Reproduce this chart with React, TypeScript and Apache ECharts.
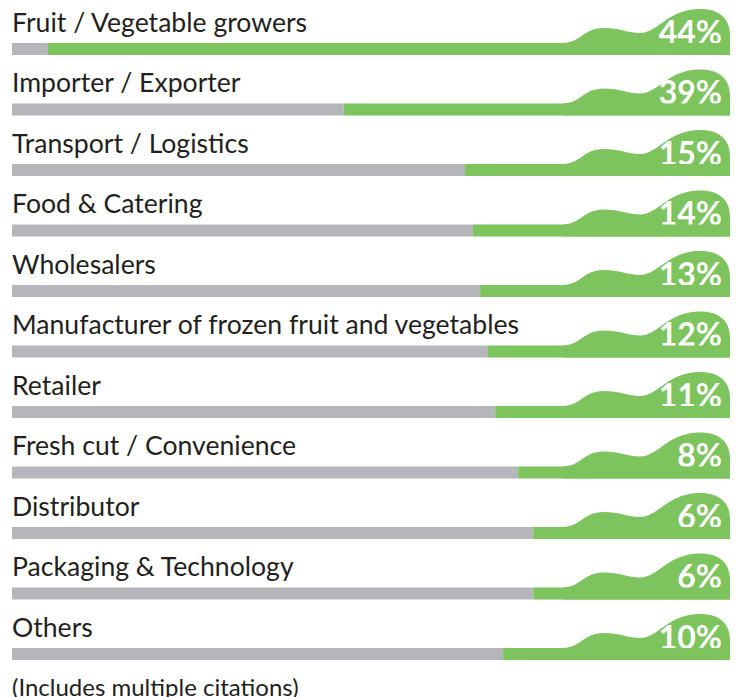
import React, { useEffect, useRef } from "react";
import * as echarts from "echarts";

const categories = [
  "Fruit / Vegetable growers",
  "Importer / Exporter",
  "Transport / Logistics",
  "Food & Catering",
  "Wholesalers",
  "Manufacturer of frozen fruit and vegetables",
  "Retailer",
  "Fresh cut / Convenience",
  "Distributor",
  "Packaging & Technology",
  "Others",
];
const percentages = [44, 39, 15, 14, 13, 12, 11, 8, 6, 6, 10];
// green part of each bar, as a share (0-100) of the full bar
const greenFill = [95.0, 53.8, 36.9, 35.8, 34.8, 33.7, 32.7, 29.5, 27.4, 27.4, 31.6];
const footnote = "(Includes multiple citations)";

const GREEN = "#7dc35e";
const GRAY = "#b5b6ba";
const TEXT = "#231f20";
const FONT = "Lato, 'Open Sans', sans-serif";

export default function App() {
  const ref = useRef<HTMLDivElement>(null);
  useEffect(() => {
    if (!ref.current) return;
    const chart = echarts.init(ref.current, undefined, { renderer: "svg" });
    const grayData = greenFill.map((g) => 100 - g);
    const customData = categories.map((c, i) => [i, percentages[i], c]);
    chart.setOption({
      animation: false,
      grid: { left: 12, right: 9, top: 18.75, bottom: 12.75, containLabel: false },
      xAxis: { type: "value", min: 0, max: 100, show: false },
      yAxis: {
        type: "category",
        data: categories,
        inverse: true,
        show: false,
      },
      series: [
        {
          type: "bar",
          stack: "s",
          data: grayData,
          barWidth: 12,
          itemStyle: { color: GRAY },
          silent: true,
        },
        {
          type: "bar",
          stack: "s",
          data: greenFill,
          barWidth: 12,
          itemStyle: { color: GREEN },
          silent: true,
        },
        {
          type: "custom",
          data: customData,
          silent: true,
          renderItem: (params: any, api: any) => {
            const idx = api.value(0);
            const pct = api.value(1);
            const label = categories[idx];
            const [xr, yc] = api.coord([100, idx]);
            const [xl] = api.coord([0, idx]);
            const top = yc - 6;
            const p = (dx: number, dy: number) => `${xr + dx} ${top + dy}`;
            const d =
              `M ${p(-167, 0)} C ${p(-150, 0)} ${p(-146, -15)} ${p(-127, -15)} ` +
              `C ${p(-110, -15)} ${p(-102, -10)} ${p(-90, -10)} ` +
              `C ${p(-72, -10)} ${p(-62, -34)} ${p(-30, -34)} ` +
              `C ${p(-10, -34)} ${p(0, -24)} ${p(0, -8)} ` +
              `L ${p(0, 12)} L ${p(-167, 12)} Z`;
            return {
              type: "group",
              children: [
                { type: "path", shape: { pathData: d }, style: { fill: GREEN } },
                {
                  type: "text",
                  style: {
                    text: pct + "%",
                    x: xr - 8,
                    y: top - 12,
                    align: "right",
                    verticalAlign: "middle",
                    fill: "#ffffff",
                    fontSize: 32,
                    fontWeight: "bold",
                    fontFamily: FONT,
                  },
                },
                {
                  type: "text",
                  style: {
                    text: label,
                    x: xl,
                    y: top - 21.5,
                    align: "left",
                    verticalAlign: "middle",
                    fill: TEXT,
                    fontSize: 26.6,
                    fontFamily: FONT,
                  },
                },
              ],
            };
          },
        },
      ],
      graphic: [
        {
          type: "text",
          x: 12,
          y: 686.2,
          style: {
            text: footnote,
            fill: TEXT,
            fontSize: 24,
            fontFamily: FONT,
            verticalAlign: "middle",
          },
        },
      ],
    });
    return () => chart.dispose();
  }, []);
  return (
    <div
      ref={ref}
      style={{ position: "fixed", left: 0, top: 0, width: 739, height: 697, background: "#ffffff" }}
    />
  );
}
